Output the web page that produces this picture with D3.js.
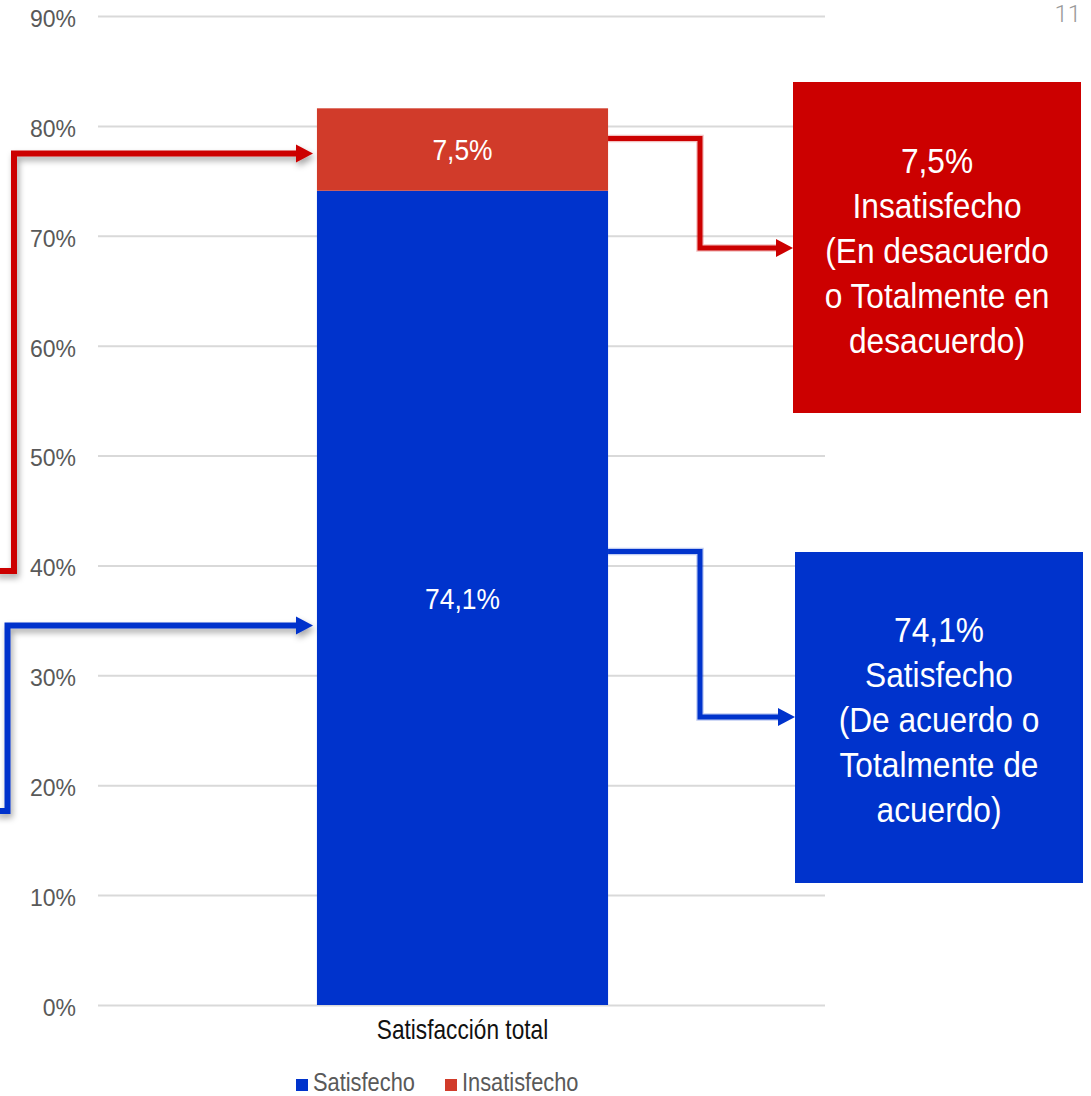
<!DOCTYPE html>
<html>
<head>
<meta charset="utf-8">
<script src="https://cdn.jsdelivr.net/npm/d3@7/dist/d3.min.js"></script>
<style>
  html, body { margin: 0; padding: 0; background: #fff; }
  svg { display: block; }
  .cond { font-family: "Liberation Sans", Arial, sans-serif; }
</style>
</head>
<body>
<svg id="chart" width="1091" height="1096"></svg>
<script>
// ---- data ----
const categories = ["Satisfacción total"];
const seriesNames = ["Satisfecho", "Insatisfecho"];
const satisfecho = [0.741];
const insatisfecho = [0.075];
const valueLabels = { Satisfecho: ["74,1%"], Insatisfecho: ["7,5%"] };
const yTicks = [0, 0.1, 0.2, 0.3, 0.4, 0.5, 0.6, 0.7, 0.8, 0.9];
const calloutLines = {
  Insatisfecho: ["7,5%", "Insatisfecho", "(En desacuerdo", "o Totalmente en", "desacuerdo)"],
  Satisfecho: ["74,1%", "Satisfecho", "(De acuerdo o", "Totalmente de", "acuerdo)"]
};
const pageNumber = "11";

// ---- styles ----
const colors = { Satisfecho: "#0033CC", Insatisfecho: "#D13B2A" };
const boxColors = { Satisfecho: "#0033CC", Insatisfecho: "#CC0000" };
const arrowColors = { Satisfecho: "#0033CC", Insatisfecho: "#CC0000" };

const svg = d3.select("#chart");
const plot = { left: 100, right: 825, top: 16, bottom: 1005 };

const y = d3.scaleLinear().domain([0, 0.9]).range([plot.bottom, plot.top]);
const x = d3.scaleBand().domain(categories).range([plot.left, plot.right])
  .paddingInner(0.427).paddingOuter(0.427);

// condensed text: regular sans squeezed horizontally
function condText(parent, px, py, str, opts) {
  const g = parent.append("g")
    .attr("transform", `translate(${px},${py}) scale(${opts.sx || 0.86},1)`);
  return g.append("text").attr("class", "cond")
    .attr("x", 0).attr("y", 0)
    .attr("dy", opts.dy || null)
    .attr("text-anchor", opts.anchor || "start")
    .attr("fill", opts.fill || "#000")
    .style("font-size", opts.size + "px")
    .text(str);
}

// stacked data
const rows = categories.map((c, i) => ({ cat: c, Satisfecho: satisfecho[i], Insatisfecho: insatisfecho[i] }));
const stack = d3.stack().keys(seriesNames)(rows);

// ---- defs: shadow ----
const defs = svg.append("defs");
const f = defs.append("filter").attr("id", "shadow")
  .attr("x", "-20%").attr("y", "-20%").attr("width", "140%").attr("height", "140%");
f.append("feDropShadow").attr("dx", 2).attr("dy", 4).attr("stdDeviation", 3)
  .attr("flood-color", "#000").attr("flood-opacity", 0.35);

// ---- gridlines + y axis ----
const yAxis = d3.axisLeft(y).tickValues(yTicks).tickFormat(d3.format(".0%"))
  .tickSize(-(plot.right - (plot.left - 2))).tickPadding(22);
const gy = svg.append("g").attr("transform", `translate(${plot.left - 2},0)`).call(yAxis);
gy.select(".domain").remove();
gy.selectAll(".tick line").attr("stroke", "#d9d9d9").attr("stroke-width", 2);
gy.selectAll(".tick text")
  .attr("fill", "#595959")
  .style("font-family", "'Liberation Sans', Arial, sans-serif")
  .style("font-size", "23px")
  .attr("dy", "0.45em");

// ---- bars ----
const layers = svg.append("g").selectAll("g").data(stack).join("g")
  .attr("fill", d => colors[d.key]);
layers.selectAll("rect").data(d => d).join("rect")
  .attr("x", d => x(d.data.cat))
  .attr("width", x.bandwidth())
  .attr("y", d => y(d[1]))
  .attr("height", d => y(d[0]) - y(d[1]));

// value labels in segments
stack.forEach(layer => {
  layer.forEach((d, i) => {
    condText(svg, x(d.data.cat) + x.bandwidth() / 2, (y(d[0]) + y(d[1])) / 2,
      valueLabels[layer.key][i], { anchor: "middle", fill: "#fff", size: 30, sx: 0.88, dy: "0.36em" });
  });
});

// ---- category axis label ----
condText(svg, x(categories[0]) + x.bandwidth() / 2, 1039, categories[0],
  { anchor: "middle", fill: "#111", size: 27, sx: 0.84 });

// ---- legend ----
const legendItems = [
  { key: "Satisfecho", x: 296 },
  { key: "Insatisfecho", x: 445 }
];
legendItems.forEach(it => {
  svg.append("rect").attr("x", it.x).attr("y", 1079).attr("width", 12).attr("height", 12)
    .attr("fill", colors[it.key]);
  condText(svg, it.x + 17, 1091, it.key, { fill: "#595959", size: 26, sx: 0.84 });
});

// ---- callout boxes ----
const boxes = [
  { key: "Insatisfecho", x: 793, y: 82, w: 288, h: 331, firstLine: 160 },
  { key: "Satisfecho", x: 795, y: 552, w: 288, h: 331, firstLine: 629 }
];
boxes.forEach(b => {
  svg.append("rect").attr("x", b.x).attr("y", b.y).attr("width", b.w).attr("height", b.h)
    .attr("fill", boxColors[b.key]);
  calloutLines[b.key].forEach((line, i) => {
    condText(svg, b.x + b.w / 2, b.firstLine + i * 45, line,
      { anchor: "middle", fill: "#fff", size: 36, sx: 0.88, dy: "0.36em" });
  });
});

// ---- connector arrows ----
function arrowHead(g, tipX, tipY, color, len = 17, half = 9) {
  g.append("path")
    .attr("d", `M${tipX},${tipY} L${tipX - len},${tipY - half} L${tipX - len},${tipY + half} Z`)
    .attr("fill", color);
}
function elbow(points, color, width, opts = {}) {
  const g = svg.append("g");
  if (opts.shadow) g.attr("filter", "url(#shadow)");
  const line = d3.line();
  const last = points[points.length - 1];
  const trimmed = points.slice(0, -1).concat([[last[0] - 14, last[1]]]);
  if (opts.glow) {
    g.append("path").attr("d", line(trimmed)).attr("fill", "none")
      .attr("stroke", color).attr("stroke-opacity", 0.25).attr("stroke-width", width + 2.5)
      .attr("stroke-linejoin", "miter");
  }
  g.append("path").attr("d", line(trimmed)).attr("fill", "none")
    .attr("stroke", color).attr("stroke-width", width).attr("stroke-linejoin", "miter");
  arrowHead(g, last[0], last[1], color);
  return g;
}

// left side arrows pointing into the bar
elbow([[-5, 571], [14, 571], [14, 153.5], [313, 153.5]], arrowColors.Insatisfecho, 6, { shadow: true });
elbow([[-5, 811], [7.5, 811], [7.5, 625.5], [313, 625.5]], arrowColors.Satisfecho, 6, { shadow: true });

// right side arrows from the bar to the boxes
const barRight = x(categories[0]) + x.bandwidth();
elbow([[barRight, 138.5], [700, 138.5], [700, 248], [793, 248]], arrowColors.Insatisfecho, 5, { glow: true });
elbow([[barRight, 551.5], [700, 551.5], [700, 717], [795, 717]], arrowColors.Satisfecho, 5, { glow: true });

// ---- page number ----
svg.append("text")
  .attr("x", 1081).attr("y", 22)
  .attr("text-anchor", "end")
  .attr("fill", "#9a9a9a")
  .style("font-family", "Roboto, sans-serif")
  .style("font-weight", 300)
  .style("font-size", "24px")
  .text(pageNumber);
</script>
</body>
</html>
